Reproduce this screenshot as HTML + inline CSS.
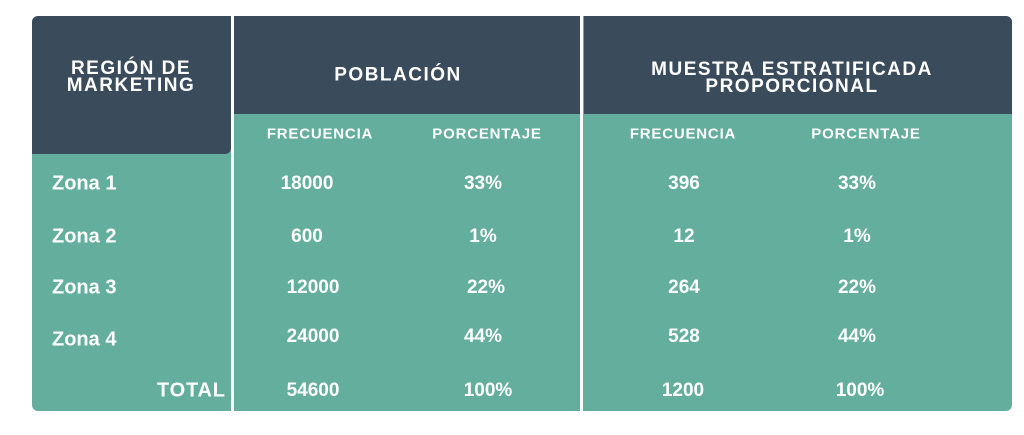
<!DOCTYPE html>
<html><head><meta charset="utf-8"><style>
body{margin:0;width:1024px;height:435px;background:#fff;position:relative;overflow:hidden;font-family:"Liberation Sans",sans-serif;font-weight:bold;color:#fff}
.b{position:absolute}
.t{position:absolute;transform:translate(-50%,-50%);white-space:nowrap;text-align:center}
.h{font-size:19px;letter-spacing:1.5px;line-height:17px}
.s{font-size:15px;letter-spacing:0.8px}
.v{font-size:19px}
.z{position:absolute;font-size:20px;transform:translateY(-50%)}
</style></head><body>
<div class="b" style="left:32px;top:16px;width:980px;height:395px;background:#63ae9d;border-radius:6px"></div>
<div class="b" style="left:32px;top:16px;width:199px;height:138px;background:#3a4b5c;border-radius:6px 0 6px 0"></div>
<div class="b" style="left:234px;top:16px;width:346px;height:98px;background:#3a4b5c"></div>
<div class="b" style="left:584px;top:16px;width:428px;height:98px;background:#3a4b5c;border-radius:0 6px 0 0"></div>
<div class="b" style="left:231px;top:16px;width:3px;height:395px;background:#fff"></div>
<div class="b" style="left:580px;top:16px;width:3px;height:395px;background:#fff"></div>

<div class="t h" style="left:131px;top:77px">REGIÓN DE<br>MARKETING</div>
<div class="t h" style="left:398px;top:75px">POBLACIÓN</div>
<div class="t h" style="left:792px;top:78px">MUESTRA ESTRATIFICADA<br>PROPORCIONAL</div>

<div class="t s" style="left:320px;top:134px">FRECUENCIA</div>
<div class="t s" style="left:487px;top:134px">PORCENTAJE</div>
<div class="t s" style="left:683px;top:134px">FRECUENCIA</div>
<div class="t s" style="left:866px;top:134px">PORCENTAJE</div>

<div class="z" style="left:52px;top:184px">Zona 1</div>
<div class="z" style="left:52px;top:237px">Zona 2</div>
<div class="z" style="left:52px;top:288px">Zona 3</div>
<div class="z" style="left:52px;top:340px">Zona 4</div>
<div class="z s" style="left:157px;top:391px">TOTAL</div>

<div class="t v" style="left:307px;top:184px">18000</div>
<div class="t v" style="left:483px;top:184px">33%</div>
<div class="t v" style="left:684px;top:184px">396</div>
<div class="t v" style="left:857px;top:184px">33%</div>

<div class="t v" style="left:307px;top:237px">600</div>
<div class="t v" style="left:483px;top:237px">1%</div>
<div class="t v" style="left:684px;top:237px">12</div>
<div class="t v" style="left:857px;top:237px">1%</div>

<div class="t v" style="left:313px;top:288px">12000</div>
<div class="t v" style="left:486px;top:288px">22%</div>
<div class="t v" style="left:684px;top:288px">264</div>
<div class="t v" style="left:857px;top:288px">22%</div>

<div class="t v" style="left:313px;top:337px">24000</div>
<div class="t v" style="left:483px;top:337px">44%</div>
<div class="t v" style="left:684px;top:337px">528</div>
<div class="t v" style="left:857px;top:337px">44%</div>

<div class="t v" style="left:313px;top:391px">54600</div>
<div class="t v" style="left:488px;top:391px">100%</div>
<div class="t v" style="left:683px;top:391px">1200</div>
<div class="t v" style="left:860px;top:391px">100%</div>
</body></html>
